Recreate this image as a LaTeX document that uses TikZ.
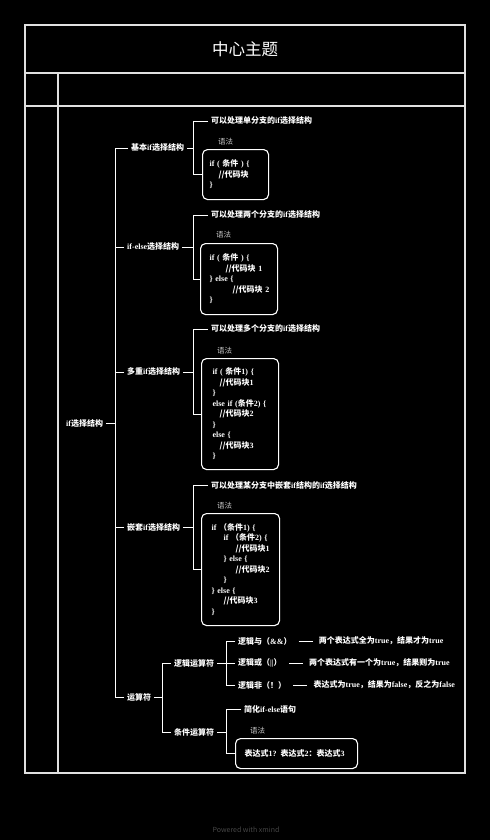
\documentclass[tikz,border=0pt]{standalone}
\usepackage{fontspec}
\setmainfont{Noto Sans CJK SC}
\newfontfamily\latf{Liberation Serif}
\newcommand\lt[1]{{\latf\bfseries #1}}
\newcommand\cl[1]{\makebox[0pt][l]{#1}}
\usetikzlibrary{positioning}
\begin{document}
\begin{tikzpicture}[x=1pt,y=-1pt,
  every node/.style={text=white, font=\fontsize{8}{10.5}\selectfont\bfseries, inner sep=3pt},
  frame/.style={draw=white!88!black, line width=1.1pt},
  conn/.style={draw=white, line width=0.9pt},
  lbl/.style={anchor=west},
  codebox/.style={draw=white, line width=1.1pt, rounded corners=5pt, align=left, anchor=north west, inner xsep=9pt, inner ysep=0pt},
  syn/.style={anchor=west, text=white!78!black, font=\fontsize{7.5}{9}\selectfont}
]
\fill[black] (0,0) rectangle (490,840);
\useasboundingbox (0,0) rectangle (490,840);
% frame
\draw[frame] (25,25) rectangle (465,773);
\draw[frame] (25,73) -- (465,73);
\draw[frame] (25,106) -- (465,106);
\draw[frame] (58,73) -- (58,773);
\node (title) [font=\fontsize{16.5}{18}\selectfont] at (245,49) {中心主题};

% root
\node (root) [lbl] at (63,423) {\lt{if}选择结构};
\coordinate (t) at (115,423);
\draw[conn] (root.east) -- (t);

% level 1
\node (n1) [lbl] at (128,148) {基本\lt{if}选择结构};
\node (n2) [lbl] at (124,247) {\lt{if-else}选择结构};
\node (n3) [lbl] at (124,372) {多重\lt{if}选择结构};
\node (n4) [lbl] at (124,527) {嵌套\lt{if}选择结构};
\node (n5) [lbl] at (124,697) {运算符};
\foreach \n in {n1,n2,n3,n4,n5} \draw[conn] (\n.west) -| (t);

% group 1
\coordinate (j1) at (193,148);
\node (d1) [lbl] at (208,121) {可以处理单分支的\lt{if}选择结构};
\node (s1) [syn] at (215,142) {语法};
\node (b1) [codebox, inner xsep=7pt, text width=52pt, minimum height=50pt] at (202,149) {%
\cl{\lt{if ( }条件\lt{ ) \{}}\\
\cl{\hspace*{9pt}//代码块}\\
\cl{\lt{\}}}};
\draw[conn] (n1.east) -- (j1);
\draw[conn] (d1.west) -| (j1);
\draw[conn] (b1.west) -| (j1);

% group 2
\coordinate (j2) at (193,247);
\node (d2) [lbl] at (208,215) {可以处理两个分支的\lt{if}选择结构};
\node (s2) [syn] at (213,235) {语法};
\node (b2) [codebox, text width=59pt, minimum height=71pt] at (200,243) {%
\cl{\lt{if ( }条件\lt{ ) \{}}\\
\cl{\hspace*{16pt}//代码块 \lt{1}}\\
\cl{\lt{\} else \{}}\\
\cl{\hspace*{23pt}//代码块 \lt{2}}\\
\cl{\lt{\}}}};
\draw[conn] (n2.east) -- (j2);
\draw[conn] (d2.west) -| (j2);
\draw[conn] (b2.west) -| (j2);

% group 3
\coordinate (j3) at (193,372);
\node (d3) [lbl] at (208,329) {可以处理多个分支的\lt{if}选择结构};
\node (s3) [syn] at (214,351) {语法};
\node (b3) [codebox, inner xsep=11pt, text width=55pt, minimum height=111pt] at (201,358) {%
\cl{\lt{if ( }条件\lt{1) \{}}\\
\cl{\hspace*{7pt}//代码块\lt{1}}\\
\cl{\lt{\}}}\\
\cl{\lt{else if (}条件\lt{2) \{}}\\
\cl{\hspace*{7pt}//代码块\lt{2}}\\
\cl{\lt{\}}}\\
\cl{\lt{else \{}}\\
\cl{\hspace*{7pt}//代码块\lt{3}}\\
\cl{\lt{\}}}};
\draw[conn] (n3.east) -- (j3);
\draw[conn] (d3.west) -| (j3);
\draw[conn] (b3.west) -| (j3);

% group 4
\coordinate (j4) at (193,527);
\node (d4) [lbl] at (208,485) {可以处理某分支中嵌套\lt{if}结构的\lt{if}选择结构};
\node (s4) [syn] at (214,506) {语法};
\node (b4) [codebox, inner xsep=10pt, text width=58pt, minimum height=112pt] at (201,513) {%
\cl{\lt{if }（条件\lt{1) \{}}\\
\cl{\hspace*{12pt}\lt{if }（条件\lt{2) \{}}\\
\cl{\hspace*{24pt}//代码块\lt{1}}\\
\cl{\hspace*{12pt}\lt{\} else \{}}\\
\cl{\hspace*{24pt}//代码块\lt{2}}\\
\cl{\hspace*{12pt}\lt{\}}}\\
\cl{\lt{\} else \{}}\\
\cl{\hspace*{12pt}//代码块\lt{3}}\\
\cl{\lt{\}}}};
\draw[conn] (n4.east) -- (j4);
\draw[conn] (d4.west) -| (j4);
\draw[conn] (b4.west) -| (j4);

% operators
\coordinate (j5) at (162,697);
\node (lo) [lbl] at (171,663) {逻辑运算符};
\node (co) [lbl] at (171,732) {条件运算符};
\draw[conn] (n5.east) -- (j5);
\draw[conn] (lo.west) -| (j5);
\draw[conn] (co.west) -| (j5);

\coordinate (j51) at (226,663);
\node (a1) [lbl] at (235,641) {逻辑与（\lt{\&\&}）};
\node (a2) [lbl] at (235,663) {逻辑或（\lt{||}）};
\node (a3) [lbl] at (235,685) {逻辑非（！）};
\draw[conn] (lo.east) -- (j51);
\foreach \n in {a1,a2,a3} \draw[conn] (\n.west) -| (j51);
\node (a1d) [right=21pt of a1] {两个表达式全为\lt{true}，结果才为\lt{true}};
\node (a2d) [right=21pt of a2] {两个表达式有一个为\lt{true}，结果则为\lt{true}};
\node (a3d) [right=21pt of a3] {表达式为\lt{true}，结果为\lt{false}，反之为\lt{false}};
\foreach \n in {a1,a2,a3} \draw[conn, shorten <=4pt, shorten >=3pt] (\n.east) -- (\n d.west);

\coordinate (j52) at (226,732);
\node (c1) [lbl] at (241,709) {简化\lt{if-else}语句};
\node (s5) [syn] at (247,731) {语法};
\node (cb) [codebox, text width=104pt, minimum height=30pt] at (235,738) {\cl{表达式\lt{1?} 表达式\lt{2}：表达式\lt{3}}};
\draw[conn] (co.east) -- (j52);
\draw[conn] (c1.west) -| (j52);
\draw[conn] (cb.west) -| (j52);

\node (foot) [text=white!28!black, font=\fontsize{7}{8}\selectfont] at (246,830) {Powered with xmind};
\end{tikzpicture}
\end{document}
